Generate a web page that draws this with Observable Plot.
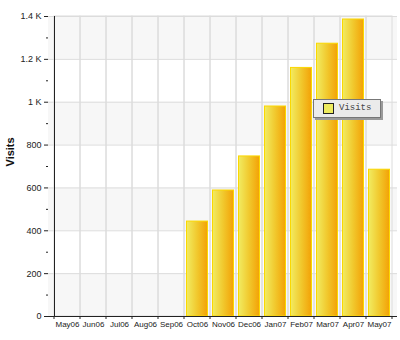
<!DOCTYPE html>
<html>
<head>
<meta charset="utf-8">
<script src="https://cdn.jsdelivr.net/npm/d3@7"></script>
<script src="https://cdn.jsdelivr.net/npm/@observablehq/plot@0.6"></script>
<style>
  html, body { margin: 0; padding: 0; background: #fff; }
  #wrap { position: relative; width: 400px; height: 340px; }
  #legend {
    position: absolute; left: 313px; top: 99px; width: 66px; height: 17px;
    background: #ebebeb; border: 1px solid #777; box-shadow: 2px 2px 0 #9a9a9a;
    font-family: "Liberation Mono", "DejaVu Sans Mono", monospace; font-size: 9px; color: #444;
  }
  #legend .sw { position: absolute; left: 9px; top: 3px; width: 9px; height: 9px; background: #eeeb5e; border: 1px solid #222; }
  #legend .lb { position: absolute; left: 25px; top: 3px; }
</style>
</head>
<body>
<div id="wrap">
  <div id="chart"></div>
  <div id="legend"><div class="sw"></div><div class="lb">Visits</div></div>
</div>
<script>
const months = ["May06","Jun06","Jul06","Aug06","Sep06","Oct06","Nov06","Dec06","Jan07","Feb07","Mar07","Apr07","May07"];
const visits = [0, 0, 0, 0, 0, 443, 588, 747, 980, 1160, 1273, 1386, 685];
const yTicks = [0, 200, 400, 600, 800, 1000, 1200, 1400];
const yTickLabels = ["0", "200", "400", "600", "800", "1 K", "1.2 K", "1.4 K"];
const yMinorTicks = [100, 300, 500, 700, 900, 1100, 1300];
const bandStarts = [0, 400, 800, 1200];
const seriesName = "Visits";

const data = months.map((m, i) => ({month: m, visits: visits[i]}));
const bands = bandStarts.map(s => ({y1: s, y2: s + 200}));

const defs = () => {
  const d = d3.create("svg:defs");
  const g = d.append("linearGradient").attr("id", "barGrad").attr("x1", "0").attr("x2", "1").attr("y1", "0").attr("y2", "0");
  g.append("stop").attr("offset", "0%").attr("stop-color", "#f1ec62");
  g.append("stop").attr("offset", "50%").attr("stop-color", "#f1c92e");
  g.append("stop").attr("offset", "100%").attr("stop-color", "#f3a106");
  return d.node();
};

const chart = Plot.plot({
  width: 400,
  height: 340,
  marginLeft: 48,
  marginRight: 3,
  marginTop: 16,
  marginBottom: 24,
  style: {fontFamily: "'Liberation Sans', Arial, sans-serif", fontSize: "9px", color: "#222", background: "transparent"},
  x: {type: "band", domain: months, padding: 0, label: null},
  y: {domain: [0, 1400], label: null},
  marks: [
    defs,
    Plot.rect(bands, {y1: "y1", y2: "y2", fill: "#f7f7f7"}),
    Plot.ruleY(yTicks, {stroke: "#dcdcdc"}),
    Plot.barY(months, {x: d => d, y1: 0, y2: 1400, fill: "none", stroke: "#dcdcdc", inset: 0}),
    Plot.barY(data.filter(d => d.visits > 0), {x: "month", y: "visits", fill: "url(#barGrad)", stroke: "#fbd800", strokeWidth: 1, insetLeft: 2.5, insetRight: 2.5}),
    Plot.axisY(yTicks, {tickFormat: (d, i) => yTickLabels[i], tickSize: 4, tickPadding: 3, stroke: "#222", fontSize: 9, label: null}),
    Plot.axisY(yMinorTicks, {tickFormat: () => "", tickSize: 2, stroke: "#222", label: null}),
    Plot.axisX({tickSize: 0, tickPadding: 5, fontSize: 8, label: null}),
    Plot.ruleY([0], {stroke: "#222"}),
    Plot.text([seriesName], {frameAnchor: "left", dx: -38, rotate: -90, fontWeight: "bold", fontSize: 11, fill: "#111", text: d => d})
  ]
});
document.getElementById("chart").appendChild(chart);

// y axis line and x tick marks at band boundaries (positions from the band scale)
const xs = chart.scale("x");
const ys = chart.scale("y");
const svg = d3.select(chart);
const yBase = ys.apply(0);
const yTop = ys.apply(1400);
const x0 = xs.apply(months[0]);
const g = svg.append("g").attr("stroke", "#222");
g.append("line").attr("x1", x0 + 0.5).attr("x2", x0 + 0.5).attr("y1", yTop).attr("y2", yBase);
months.forEach(m => {
  const x = xs.apply(m);
  g.append("line").attr("x1", x).attr("x2", x).attr("y1", yBase).attr("y2", yBase + 3);
});
const xe = xs.apply(months[months.length - 1]) + xs.bandwidth;
g.append("line").attr("x1", xe).attr("x2", xe).attr("y1", yBase).attr("y2", yBase + 3);
</script>
</body>
</html>
